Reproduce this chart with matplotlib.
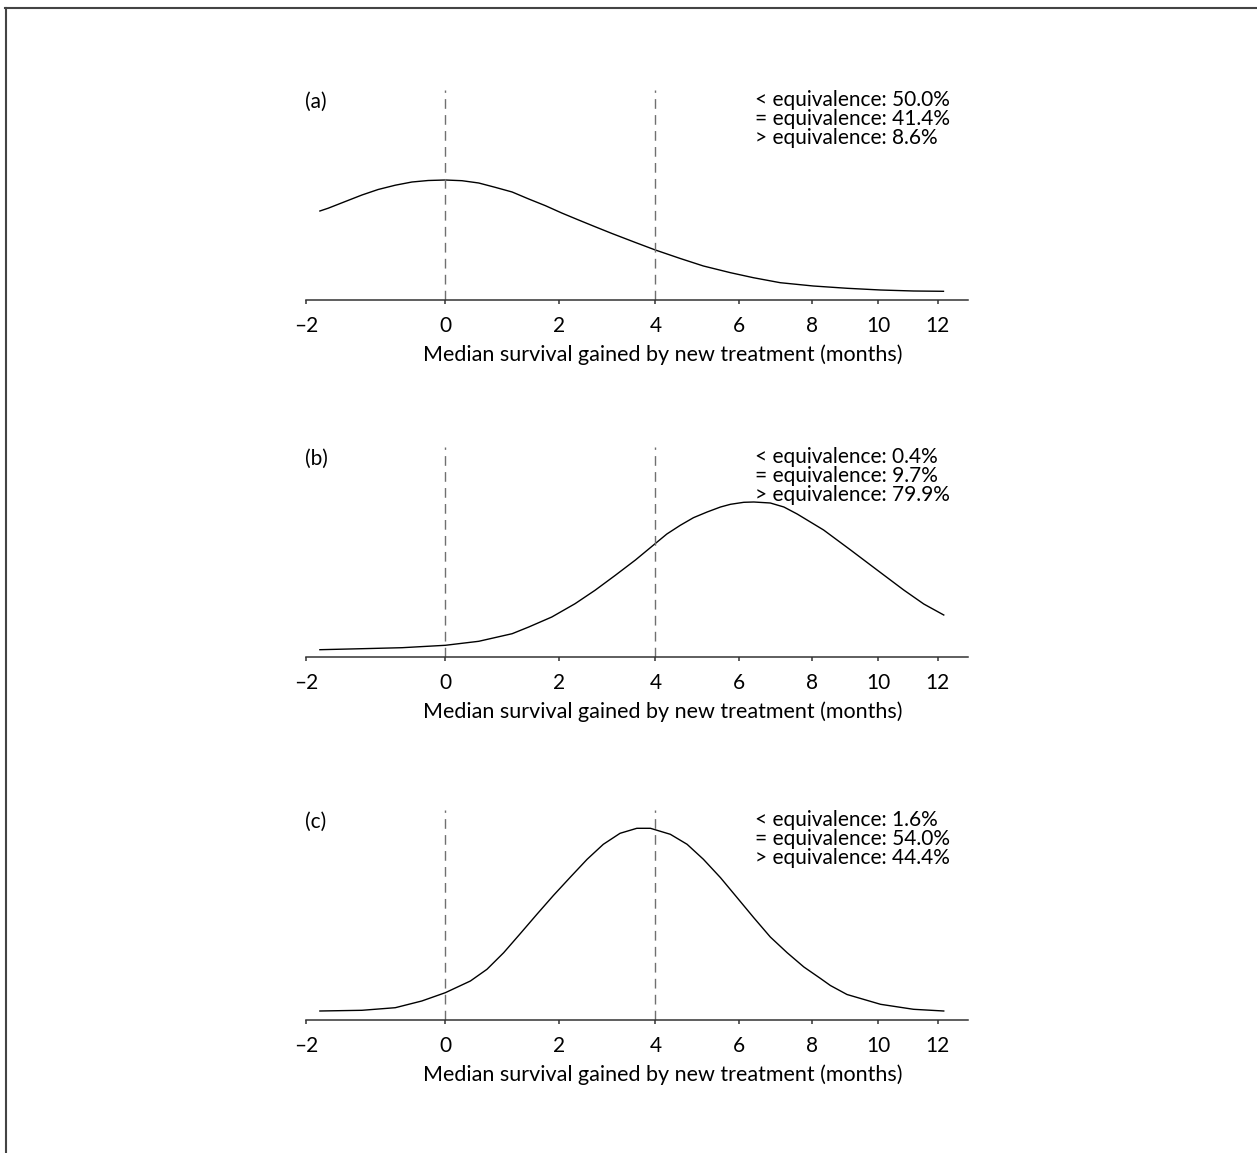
import numpy as np
import matplotlib
matplotlib.use("Agg")
import matplotlib.pyplot as plt
from matplotlib.lines import Line2D

plt.rcParams['font.family'] = ['Lato', 'DejaVu Sans']

# x axis is drawn on log(base median + gain), base median = 10 months
BASE = 10.0

ticks = [-2, 0, 2, 4, 6, 8, 10, 12]
tick_labels = ['\u20132', '0', '2', '4', '6', '8', '10', '12']
equiv_bounds = [0, 4]
xlabel = 'Median survival gained by new treatment (months)'

# (a)
gain_a = [-1.82, -1.71, -1.48, -1.25, -1.02, -0.77, -0.52, -0.27, 0.0, 0.27, 0.55,
          0.83, 1.13, 1.43, 1.74, 2.05, 2.38, 2.71, 3.06, 3.56, 4.0, 4.57, 5.12,
          5.79, 6.38, 7.10, 8.03, 9.04, 10.08, 11.17, 12.21]
dens_a = [89, 91.8, 98.5, 105, 110.5, 114.8, 118, 119.5, 120, 119.3, 117,
          112.7, 108, 101, 94.3, 87, 80, 73.3, 66.5, 57.5, 50, 41.5, 34,
          27.3, 22.3, 17.3, 14, 11.7, 10, 9, 8.7]
summ_a = ['< equivalence: 50.0%', '= equivalence: 41.4%', '> equivalence: 8.6%']

# (b)
gain_b = [-1.82, -1.25, -0.67, 0.0, 0.55, 1.13, 1.43, 1.86, 2.31, 2.71, 3.13, 3.56,
          4.0, 4.26, 4.57, 4.88, 5.21, 5.54, 5.79, 6.13, 6.39, 6.83, 7.20, 7.57,
          8.33, 9.14, 9.97, 10.84, 11.52, 12.22]
dens_b = [7.3, 8.3, 9.3, 11.7, 15.7, 23.3, 30, 40, 53.3, 66.7, 81.7, 97,
          113.5, 123, 131.7, 139.3, 145, 150, 152.7, 154.7, 155, 154, 150, 143,
          127, 107, 87, 67, 53, 42]
summ_b = ['< equivalence: 0.4%', '= equivalence: 9.7%', '> equivalence: 79.9%']

# (c)
gain_c = [-1.82, -1.25, -0.77, -0.37, 0.0, 0.41, 0.69, 0.98, 1.27, 1.58, 1.89, 2.22,
          2.55, 2.88, 3.23, 3.59, 3.89, 4.34, 4.73, 5.12, 5.54, 5.96, 6.39, 6.83,
          7.29, 7.76, 8.24, 8.53, 9.03, 10.08, 11.17, 12.22]
dens_c = [9, 9.7, 12.3, 19, 27.3, 39, 50.7, 67.3, 86, 105.7, 124.5, 143,
          160.7, 175.7, 186.7, 191.7, 191.7, 185.7, 175.7, 160.7, 142.3, 122.3, 102.3, 83,
          67.3, 53, 41.5, 34.5, 25.5, 15.7, 10.7, 9]
summ_c = ['< equivalence: 1.6%', '= equivalence: 54.0%', '> equivalence: 44.4%']

panels = [('(a)', gain_a, dens_a, summ_a),
          ('(b)', gain_b, dens_b, summ_b),
          ('(c)', gain_c, dens_c, summ_c)]

W, H = 1257, 1153
fig = plt.figure(figsize=(W / 100, H / 100), dpi=100)

axis_y = [300, 657, 1020]   # pixel row of each x axis line
ax_left, ax_w, ax_h = 306, 662, 210


def fwd(x):
    return np.log(np.asarray(x) + BASE)


def inv(y):
    return np.exp(y) - BASE


for (name, gain, dens, summ), yb in zip(panels, axis_y):
    ax = fig.add_axes([ax_left / W, 1 - yb / H, ax_w / W, ax_h / H])
    ax.set_xscale('function', functions=(fwd, inv))
    ax.plot(gain, dens, color='black', lw=1.0)
    for b in equiv_bounds:
        ax.axvline(b, color='#707070', lw=1.0, ls=(0, (7, 4.5)))
    ax.set_xlim(-2, 13.1)
    ax.set_ylim(0, 210)
    for s in ['top', 'right', 'left']:
        ax.spines[s].set_visible(False)
    ax.spines['bottom'].set_color('#333333')
    ax.spines['bottom'].set_linewidth(1.1)
    ax.set_yticks([])
    ax.set_xticks(ticks)
    ax.set_xticklabels(tick_labels)
    ax.xaxis.set_minor_locator(matplotlib.ticker.NullLocator())
    ax.tick_params(axis='x', direction='out', length=3, width=1.1,
                   color='#333333', labelsize=15, pad=8.5)
    ax.set_xlabel(xlabel, fontsize=15.5, labelpad=6)
    ax.xaxis.label.set_x((663 - ax_left) / ax_w)
    ax.patch.set_alpha(0)

    ty = yb - 198
    fig.text(305 / W, 1 - ty / H, name, fontsize=15, va='center', ha='left')
    for i, line in enumerate(summ):
        fig.text(755 / W, 1 - (ty - 2 + 19 * i) / H, line, fontsize=15,
                 va='center', ha='left')

# partial frame around the figure (top and left edges)
fig.add_artist(Line2D([5 / W, 1], [1 - 8 / H, 1 - 8 / H], color='#444444', lw=1.5))
fig.add_artist(Line2D([6 / W, 6 / W], [0, 1 - 8 / H], color='#444444', lw=1.5))

fig.savefig('out.png', dpi=100)
